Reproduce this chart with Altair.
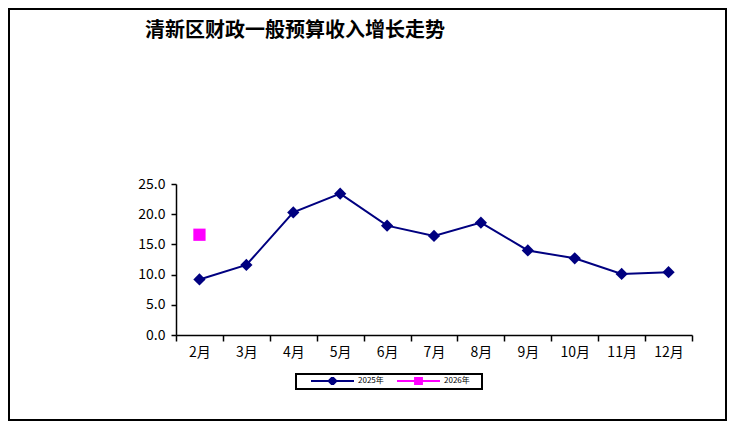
import altair as alt
import pandas as pd

# DATA ------------------------------------------------------------
months = ['2月', '3月', '4月', '5月', '6月', '7月', '8月', '9月', '10月', '11月', '12月']
growth_2025 = [9.2, 11.6, 20.3, 23.4, 18.1, 16.4, 18.6, 14.0, 12.7, 10.1, 10.4]
months_2026 = ['2月']
growth_2026 = [16.6]
series = ['2025年', '2026年']
colors = ['#000080', '#FF00FF']
y_ticks = [0, 5, 10, 15, 20, 25]
chart_title = '清新区财政一般预算收入增长走势'

df = pd.concat([
    pd.DataFrame({'month': months, 'value': growth_2025, 'year': series[0]}),
    pd.DataFrame({'month': months_2026, 'value': growth_2026, 'year': series[1]}),
])

FONT = 'Noto Sans CJK SC'

# ENCODINGS -------------------------------------------------------
x = alt.X('month:N', sort=months,
          scale=alt.Scale(type='band', domain=months, paddingInner=0, paddingOuter=0),
          axis=alt.Axis(title=None, labelAngle=0, tickBand='extent', tickSize=6,
                        labelPadding=4, labelFontSize=14, labelFont=FONT,
                        labelColor='black', domainColor='black', tickColor='black',
                        domainWidth=1.5, tickWidth=1.5))
y = alt.Y('value:Q', scale=alt.Scale(domain=[0, 25], nice=False),
          axis=alt.Axis(title=None, values=y_ticks, format='.1f', grid=False,
                        tickSize=5, labelPadding=6, labelFontSize=14, labelFont=FONT,
                        labelColor='black', domainColor='black', tickColor='black',
                        domainWidth=1.5, tickWidth=1.5))

color_all = alt.Color('year:N', scale=alt.Scale(domain=series, range=colors), legend=None)

# legend symbols: a short line with the series' marker in the middle
diamond_sym = 'M-1,0L1,0M0,-0.18L0.18,0L0,0.18L-0.18,0Z'
square_sym = 'M-1,0L1,0M-0.16,-0.16L0.16,-0.16L0.16,0.16L-0.16,0.16Z'


def legend_layer(name, col, sym, lx):
    leg = alt.Legend(
        title=None, orient='none', legendX=lx, legendY=193, padding=0,
        symbolType=sym, symbolSize=1849, symbolStrokeWidth=2,
        symbolFillColor=col, symbolStrokeColor=col, symbolOpacity=1,
        labelOffset=3, clipHeight=8, labelFontSize=8, labelFont=FONT,
        labelColor='black')
    return alt.Chart(df[df['year'] == name]).mark_point(filled=True, opacity=0).encode(
        x=x, y=y,
        color=alt.Color('year:N', scale=alt.Scale(domain=[name], range=[col]), legend=leg))


# LAYERS ----------------------------------------------------------
# whole chart is 719x413 px; the plot area starts at (168, 176)
one = pd.DataFrame({'k': [0]})
frame = alt.Chart(one).mark_rect(
    fillOpacity=0, stroke='black', strokeWidth=2, clip=False
).encode(x=alt.value(-167), x2=alt.value(550), y=alt.value(-175), y2=alt.value(236))

legend_box = alt.Chart(one).mark_rect(
    fillOpacity=0, stroke='black', strokeWidth=2, clip=False
).encode(x=alt.value(120), x2=alt.value(306), y=alt.value(190), y2=alt.value(205))

title_text = alt.Chart(one).mark_text(
    text=chart_title, align='left', baseline='alphabetic', fontSize=20,
    fontWeight='bold', font=FONT, color='black', clip=False
).encode(x=alt.value(-31), y=alt.value(-147))

base = alt.Chart(df).encode(x=x, y=y, color=color_all)

lines = base.mark_line(strokeWidth=2)

points = base.mark_point(filled=True, size=150, opacity=1).encode(
    shape=alt.Shape('year:N', scale=alt.Scale(domain=series, range=['diamond', 'square']),
                    legend=None)
)

leg_2025 = legend_layer(series[0], colors[0], diamond_sym, 134)
leg_2026 = legend_layer(series[1], colors[1], square_sym, 220)

chart = alt.layer(frame, legend_box, title_text, lines, points, leg_2025, leg_2026).resolve_scale(
    color='independent'
).properties(
    width=516, height=151,
    autosize=alt.AutoSizeParams(type='none'),
    padding={'left': 168, 'top': 176, 'right': 35, 'bottom': 86},
    background='white'
).configure_view(stroke=None)

chart.save('out.html', embed_options={'renderer': 'svg', 'actions': False})
